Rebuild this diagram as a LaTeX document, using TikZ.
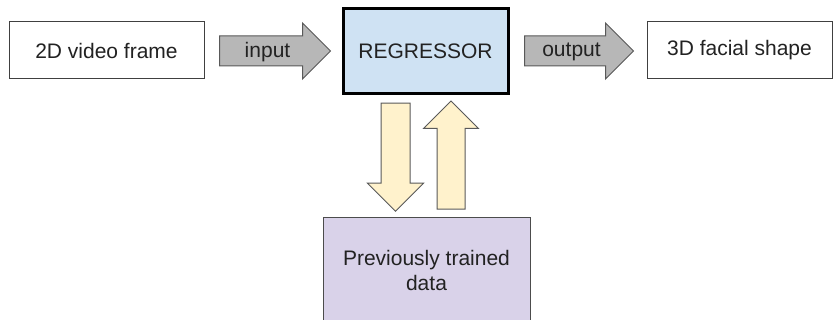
\documentclass[tikz,border=0pt]{standalone}
\usepackage{fontspec}
\setmainfont{Liberation Sans}
\usetikzlibrary{shapes.arrows}

\definecolor{regblue}{HTML}{CFE2F3}
\definecolor{datapurple}{HTML}{D9D2E9}
\definecolor{flowgray}{HTML}{B7B7B7}
\definecolor{loopcream}{HTML}{FFF2CC}
\definecolor{textdark}{HTML}{222222}

\begin{document}
\begin{tikzpicture}
[
  x=0.5pt,
  y=-0.5pt,
  font=\fontsize{10.5}{12.5}\selectfont,
  text=textdark,
	io/.style={draw=black!75,fill=white,line width=0.5pt,minimum height=28.5pt},
	regr/.style={draw=black,line width=1.5pt,fill=regblue,minimum width=82.5pt,minimum height=42.5pt},
	stored/.style={draw=black!70,line width=0.5pt,fill=datapurple,minimum width=103.5pt,minimum height=53pt,align=center},
	flow/.style={single arrow,draw=black!65,line width=0.5pt,fill=flowgray,inner sep=7.25pt,single arrow head extend=6.5pt,minimum height=55.5pt},
	loop/.style={single arrow,draw=black!65,line width=0.5pt,fill=loopcream,inner sep=7pt,single arrow head extend=6.75pt,minimum height=54pt}
]

\useasboundingbox (0,0) rectangle (833,320);
\clip (0,0) rectangle (833,320);

% boxes
\node[io,minimum width=97.5pt] (frame) at (106.5,50.5) {2D video frame};
\node[regr] (regressor) at (425.5,51.5) {REGRESSOR};
\node[io,minimum width=92.5pt] (shape) at (739.5,50.5) {3D facial shape};
\node[stored] (data) at (426.5,270) {Previously trained\\ data};

% block arrows
\node[flow] (input) at (267.5,51) {};
\node at (267.5,52) {input};

\node[flow,minimum height=54.5pt] (output) at (571.5,51) {};
\node at (571.5,52) {output};

\node[loop,shape border rotate=270] (query) at (395.5,150) {};
\node[loop,inner sep=6.75pt,shape border rotate=90] (answer) at (451,162) {};

\end{tikzpicture}
\end{document}
